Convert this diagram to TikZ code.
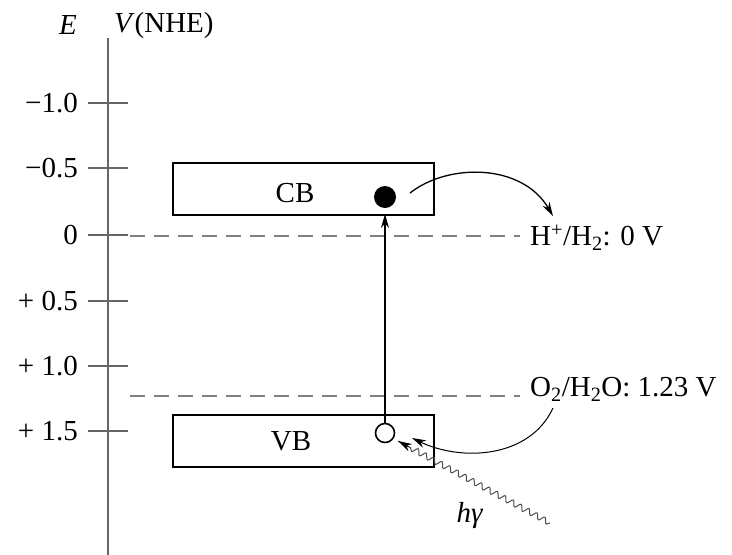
\documentclass[tikz,border=0pt]{standalone}
\usepackage{fontspec}
\setmainfont{Liberation Serif}
\usetikzlibrary{arrows.meta,decorations.pathmorphing,calc}
\begin{document}
\begin{tikzpicture}[x=1pt,y=-1pt,
  every node/.style={font=\fontsize{29}{32}\selectfont, inner sep=0pt},
  axisline/.style={draw=black!60, line width=2.2pt},
  tickline/.style={draw=black!60, line width=1.4pt},
  ticklabel/.style={anchor=east},
  level/.style={draw=black!50, line width=1.6pt, dash pattern=on 15pt off 9pt},
  band/.style={draw, line width=2pt, minimum width=261pt, minimum height=52pt},
  arr/.style={line width=1.3pt, -{Stealth[length=14pt,width=8pt]}},
  photon/.style={line width=1pt, draw=black!70, decorate,
     decoration={snake, amplitude=2.8pt, segment length=9pt, post length=12pt}}
]
\useasboundingbox (0,0) rectangle (732,555);
% axis
\coordinate (axtop) at (108,38);
\coordinate (axbot) at (108,555);
\draw[axisline] (axtop) -- (axbot);
\node (E) at (68,25) {\textit{E}};
\node[anchor=west] (V) at (114,26) {\textit{V}(NHE)};
% ticks
\foreach \n/\y/\t in {m10/103/−1.0, m05/168/−0.5, z0/235/0, p05/301/+ 0.5, p10/366/+ 1.0, p15/431/+ 1.5}{
  \coordinate (tl\n) at (88,\y);
  \coordinate (tr\n) at (128,\y);
  \draw[tickline] (tl\n) -- (tr\n);
  \node[ticklabel] (lab\n) at (78,\y) {\t};
}
% levels
\coordinate (h0) at (130,236);
\coordinate (h1) at (520,236);
\coordinate (o0) at (130,396);
\coordinate (o1) at (520,396);
\draw[level] (h0) -- (h1);
\draw[level] (o0) -- (o1);
\node[anchor=west] (Hlab) at (530,238) {H\textsuperscript{+}/H\textsubscript{2}: 0 V};
\node[anchor=west] (Olab) at (530,389) {O\textsubscript{2}/H\textsubscript{2}O: 1.23 V};
% bands
\node[band] (CB) at (303.5,188.5) {};
\node (CBt) at (295,193) {CB};
\node[band] (VB) at (303.5,441) {};
\node (VBt) at (291,441) {VB};
% carriers
\node[circle, fill=black, minimum size=22pt] (el) at (385,197) {};
\node[circle, draw, line width=1.6pt, minimum size=19pt] (ho) at (385,433) {};
% excitation
\coordinate (exTop) at (385,214);
\draw[arr] (ho.north) -- (exTop);
% electron transfer to H+
\coordinate (eS) at (410,193);
\coordinate (eE) at (553,216);
\draw[arr] (eS) .. controls (448,163) and (522,163) .. (eE);
% O2 arc
\coordinate (oS) at (553,408);
\coordinate (oE) at (412,438);
\draw[arr, line width=1pt] (oS) .. controls (530,458) and (462,462) .. (oE);
% photon
\coordinate (phS) at (550,523);
\coordinate (phE) at (398,441);
\draw[photon] (phS) -- (phE);
\draw[-{Stealth[length=14pt,width=8pt]}, line width=1pt] ($(phE)!12pt!(phS)$) -- (phE);
\node (hg) at (470,516) {\textit{hγ}};
\end{tikzpicture}
\end{document}
